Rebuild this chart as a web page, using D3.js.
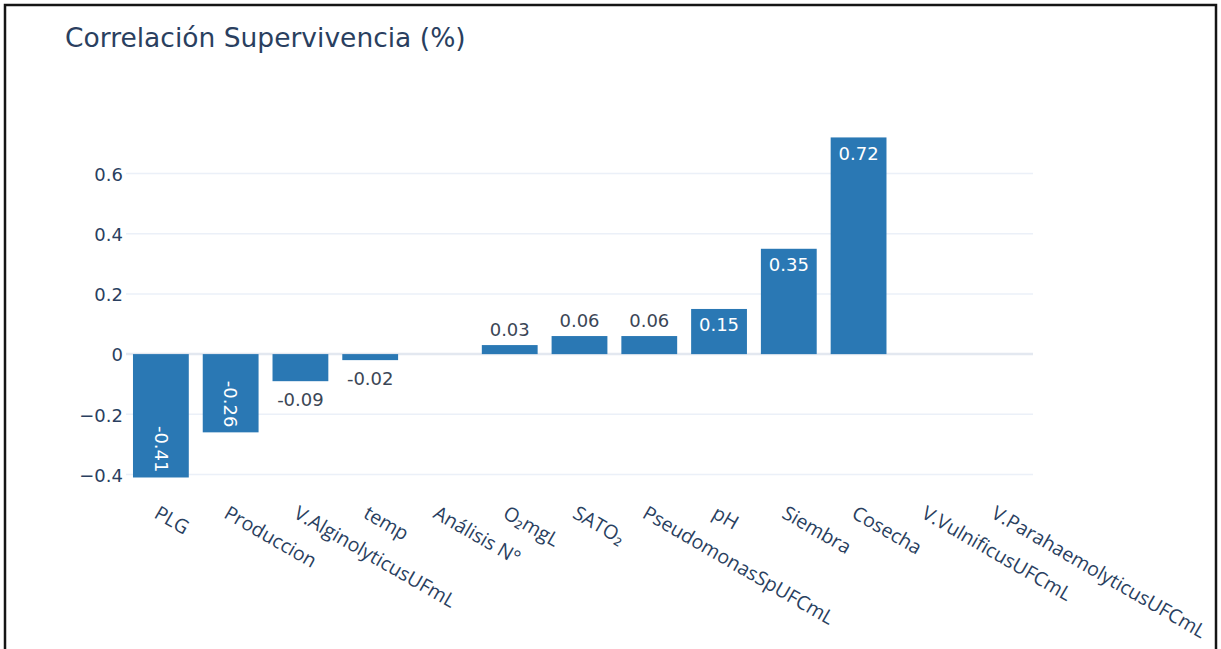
<!DOCTYPE html>
<html>
<head>
<meta charset="utf-8">
<script src="https://cdn.jsdelivr.net/npm/d3@7"></script>
<style>
  html, body { margin: 0; padding: 0; background: #fff; }
  svg { display: block; }
</style>
</head>
<body>
<svg id="chart" width="1221" height="649"></svg>
<script>
// Correlation of each variable with survival (%)
const categories = [
  "PLG", "Produccion", "V.AlginolyticusUFmL", "temp", "Análisis N°",
  "O₂mgL", "SATO₂", "PseudomonasSpUFCmL", "pH", "Siembra", "Cosecha",
  "V.VulnificusUFCmL", "V.ParahaemolyticusUFCmL"
];
const values = [-0.41, -0.26, -0.09, -0.02, null, 0.03, 0.06, 0.06, 0.15, 0.35, 0.72, null, null];
const yTicks = [-0.4, -0.2, 0, 0.2, 0.4, 0.6];
const title = "Correlación Supervivencia (%)";

const plot = { left: 126, right: 1033, top: 126, bottom: 482 };
const textColor = "#2a3f5f";
const barColor = "#2a78b4";
const numFont = "DejaVu Sans, Verdana, sans-serif";
const catFont = "'Open Sans', sans-serif";

const svg = d3.select("#chart");

// Frame around the figure
svg.append("rect")
  .attr("x", 5).attr("y", 5)
  .attr("width", 1211).attr("height", 660)
  .attr("fill", "none")
  .attr("stroke", "#151515")
  .attr("stroke-width", 2.5);

const x = d3.scaleBand()
  .domain(categories)
  .range([plot.left, plot.right])
  .paddingInner(0.2)
  .paddingOuter(0.1);

const y = d3.scaleLinear()
  .domain([-0.425, 0.758])
  .range([plot.bottom, plot.top]);

// Title
svg.append("text")
  .attr("x", 65).attr("y", 47)
  .attr("font-family", numFont)
  .attr("font-size", 26.5)
  .attr("fill", textColor)
  .text(title);

// Horizontal gridlines
svg.append("g").selectAll("line")
  .data(yTicks.filter(t => t !== 0))
  .join("line")
  .attr("x1", plot.left).attr("x2", plot.right)
  .attr("y1", d => y(d)).attr("y2", d => y(d))
  .attr("stroke", "#ebf0f8")
  .attr("stroke-width", 1.5);

// Zero line
svg.append("line")
  .attr("x1", plot.left).attr("x2", plot.right)
  .attr("y1", y(0)).attr("y2", y(0))
  .attr("stroke", "#e3e8f0")
  .attr("stroke-width", 2.5);

// Y axis labels
const yAxis = d3.axisLeft(y)
  .tickValues(yTicks)
  .tickSize(0)
  .tickPadding(0)
  .tickFormat(d => d === 0 ? "0" : d3.format(".1f")(d));
const yg = svg.append("g")
  .attr("transform", `translate(${plot.left - 3},0)`)
  .call(yAxis);
yg.select(".domain").remove();
yg.selectAll("text")
  .attr("font-family", numFont)
  .attr("font-size", 18)
  .attr("fill", textColor)
  .attr("dy", "0.38em");

// Bars
const data = categories.map((c, i) => ({ cat: c, v: values[i] })).filter(d => d.v !== null);

svg.append("g").selectAll("rect")
  .data(data)
  .join("rect")
  .attr("x", d => x(d.cat))
  .attr("width", x.bandwidth())
  .attr("y", d => Math.min(y(d.v), y(0)))
  .attr("height", d => Math.abs(y(d.v) - y(0)))
  .attr("fill", barColor);

// Value labels: inside when they fit, rotated inside when only that fits, else outside
const labels = svg.append("g");
const fmt = d3.formatLocale({ decimal: ".", thousands: ",", grouping: [3], currency: ["", ""], minus: "-" }).format(".2f");
data.forEach(d => {
  const cx = x(d.cat) + x.bandwidth() / 2;
  const barH = Math.abs(y(d.v) - y(0));
  const t = labels.append("text")
    .attr("font-family", numFont)
    .attr("font-size", 18)
    .text(fmt(d.v));
  const tw = t.node().getComputedTextLength();
  const th = 18;
  const end = y(d.v);
  if (tw + 12 <= x.bandwidth() && th + 6 <= barH) {
    t.attr("x", cx).attr("text-anchor", "middle").attr("fill", "#fff")
      .attr("y", d.v >= 0 ? end + 22.5 : end - 8);
  } else if (tw + 8 <= barH && th <= x.bandwidth()) {
    const ty = d.v >= 0 ? end + 5 : end - 5;
    t.attr("text-anchor", d.v >= 0 ? "start" : "end").attr("fill", "#fff")
      .attr("dy", "0.35em")
      .attr("transform", `translate(${cx},${ty}) rotate(90)`);
  } else {
    t.attr("x", cx).attr("text-anchor", "middle").attr("fill", "#3b4656")
      .attr("y", d.v >= 0 ? end - 9 : end + 25);
  }
});

// Category labels, tilted
svg.append("g").selectAll("text")
  .data(categories)
  .join("text")
  .attr("transform", d => `translate(${x(d) + x.bandwidth() / 2 - 8},517) rotate(30)`)
  .attr("font-family", catFont)
  .attr("font-size", 19.5)
  .attr("fill", textColor)
  .text(d => d);
</script>
</body>
</html>
